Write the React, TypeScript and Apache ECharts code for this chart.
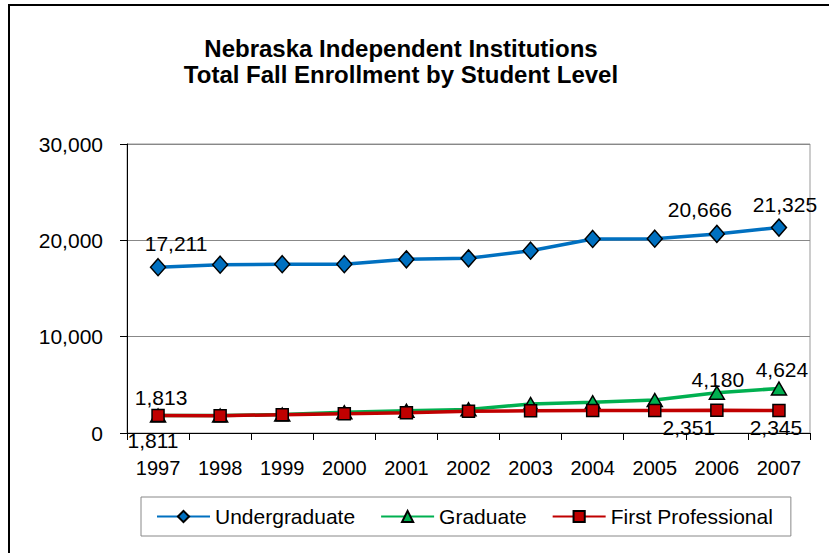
import React, { useEffect, useRef } from "react";
import * as echarts from "echarts";

const years = ["1997", "1998", "1999", "2000", "2001", "2002", "2003", "2004", "2005", "2006", "2007"];
const undergraduate = [17211, 17470, 17520, 17520, 18030, 18130, 18920, 20140, 20170, 20666, 21325];
const graduate = [1811, 1820, 1920, 2150, 2300, 2450, 3010, 3190, 3430, 4180, 4624];
const firstProfessional = [1813, 1800, 1900, 2000, 2100, 2250, 2300, 2330, 2340, 2351, 2345];
const yTicks = { min: 0, max: 30000, interval: 10000 };

const titleText = "Nebraska Independent Institutions\nTotal Fall Enrollment by Student Level";
const FONT = "'Liberation Sans', Arial, sans-serif";

const fmt = (v: number) => v.toLocaleString("en-US");

// label offsets (relative to symbol center) keyed by index
const ugLabels: Record<number, [number, number]> = { 0: [18, -24], 9: [-17, -24], 10: [6, -23] };
const gLabels: Record<number, [number, number]> = { 0: [-5, 25], 9: [1, -13], 10: [3, -19] };
const fpLabels: Record<number, [number, number]> = { 0: [3, -18], 9: [-28, 17], 10: [-3, 17] };

function buildData(values: number[], labels: Record<number, [number, number]>) {
  return values.map((v, i) => {
    const off = labels[i];
    if (!off) return v;
    return {
      value: v,
      label: {
        show: true,
        position: "inside",
        offset: off,
        formatter: (p: any) => fmt(p.value),
        color: "#000",
        fontFamily: FONT,
        fontSize: 21,
      },
    };
  });
}

export default function App() {
  const ref = useRef<HTMLDivElement>(null);
  useEffect(() => {
    document.body.style.margin = "0";
    const chart = echarts.init(ref.current!, null, { renderer: "svg" });
    chart.setOption({
      animation: false,
      backgroundColor: "#fff",
      title: {
        text: titleText,
        left: 396,
        textAlign: "center",
        top: 30,
        textStyle: { fontFamily: FONT, fontSize: 24, fontWeight: "bold", color: "#000", lineHeight: 26 },
      },
      graphic: [
        {
          type: "rect",
          shape: { x: 9, y: 5, width: 830, height: 560 },
          style: { fill: "none", stroke: "#000", lineWidth: 2 },
          silent: true,
        },
      ],
      legend: {
        left: 141,
        top: 497,
        height: 40,
        padding: [9, 18, 9, 15],
        itemGap: 25,
        itemWidth: 53,
        itemHeight: 14,
        borderColor: "#888",
        borderWidth: 1,
        textStyle: { fontFamily: FONT, fontSize: 21, color: "#000" },
        data: ["Undergraduate", "Graduate", "First Professional"],
      },
      grid: {
        left: 127,
        right: 19,
        top: 144,
        bottom: 120,
        show: true,
        borderColor: "#999",
        borderWidth: 1,
      },
      xAxis: {
        type: "category",
        data: years,
        boundaryGap: true,
        axisLine: { lineStyle: { color: "#000", width: 1 } },
        axisTick: { show: true, length: 7, inside: false, alignWithLabel: false, lineStyle: { color: "#000" } },
        axisLabel: { margin: 25, color: "#000", fontFamily: FONT, fontSize: 20, interval: 0 },
        splitLine: { show: false },
      },
      yAxis: {
        type: "value",
        min: yTicks.min,
        max: yTicks.max,
        interval: yTicks.interval,
        axisLine: { show: true, lineStyle: { color: "#000", width: 1 } },
        axisTick: { show: true, length: 7, lineStyle: { color: "#000" } },
        axisLabel: { margin: 24, color: "#000", fontFamily: FONT, fontSize: 21, formatter: (v: number) => fmt(v) },
        splitLine: { show: true, lineStyle: { color: "#888", width: 1 } },
      },
      series: [
        {
          name: "Undergraduate",
          type: "line",
          data: buildData(undergraduate, ugLabels),
          symbol: "diamond",
          symbolSize: [15, 17],
          lineStyle: { color: "#0070C0", width: 3.5 },
          itemStyle: { color: "#0070C0", borderColor: "#000", borderWidth: 1.5 },
          z: 3,
        },
        {
          name: "Graduate",
          type: "line",
          data: buildData(graduate, gLabels),
          symbol: "triangle",
          symbolSize: [15, 13],
          lineStyle: { color: "#00B050", width: 3.5 },
          itemStyle: { color: "#00B050", borderColor: "#000", borderWidth: 1.5 },
          z: 4,
        },
        {
          name: "First Professional",
          type: "line",
          data: buildData(firstProfessional, fpLabels),
          symbol: "rect",
          symbolSize: [12, 12],
          lineStyle: { color: "#C00000", width: 3.5 },
          itemStyle: { color: "#C00000", borderColor: "#000", borderWidth: 1.5 },
          z: 5,
        },
      ],
    });
    return () => chart.dispose();
  }, []);
  return <div ref={ref} style={{ position: "absolute", left: 0, top: 0, width: 829, height: 553 }} />;
}
